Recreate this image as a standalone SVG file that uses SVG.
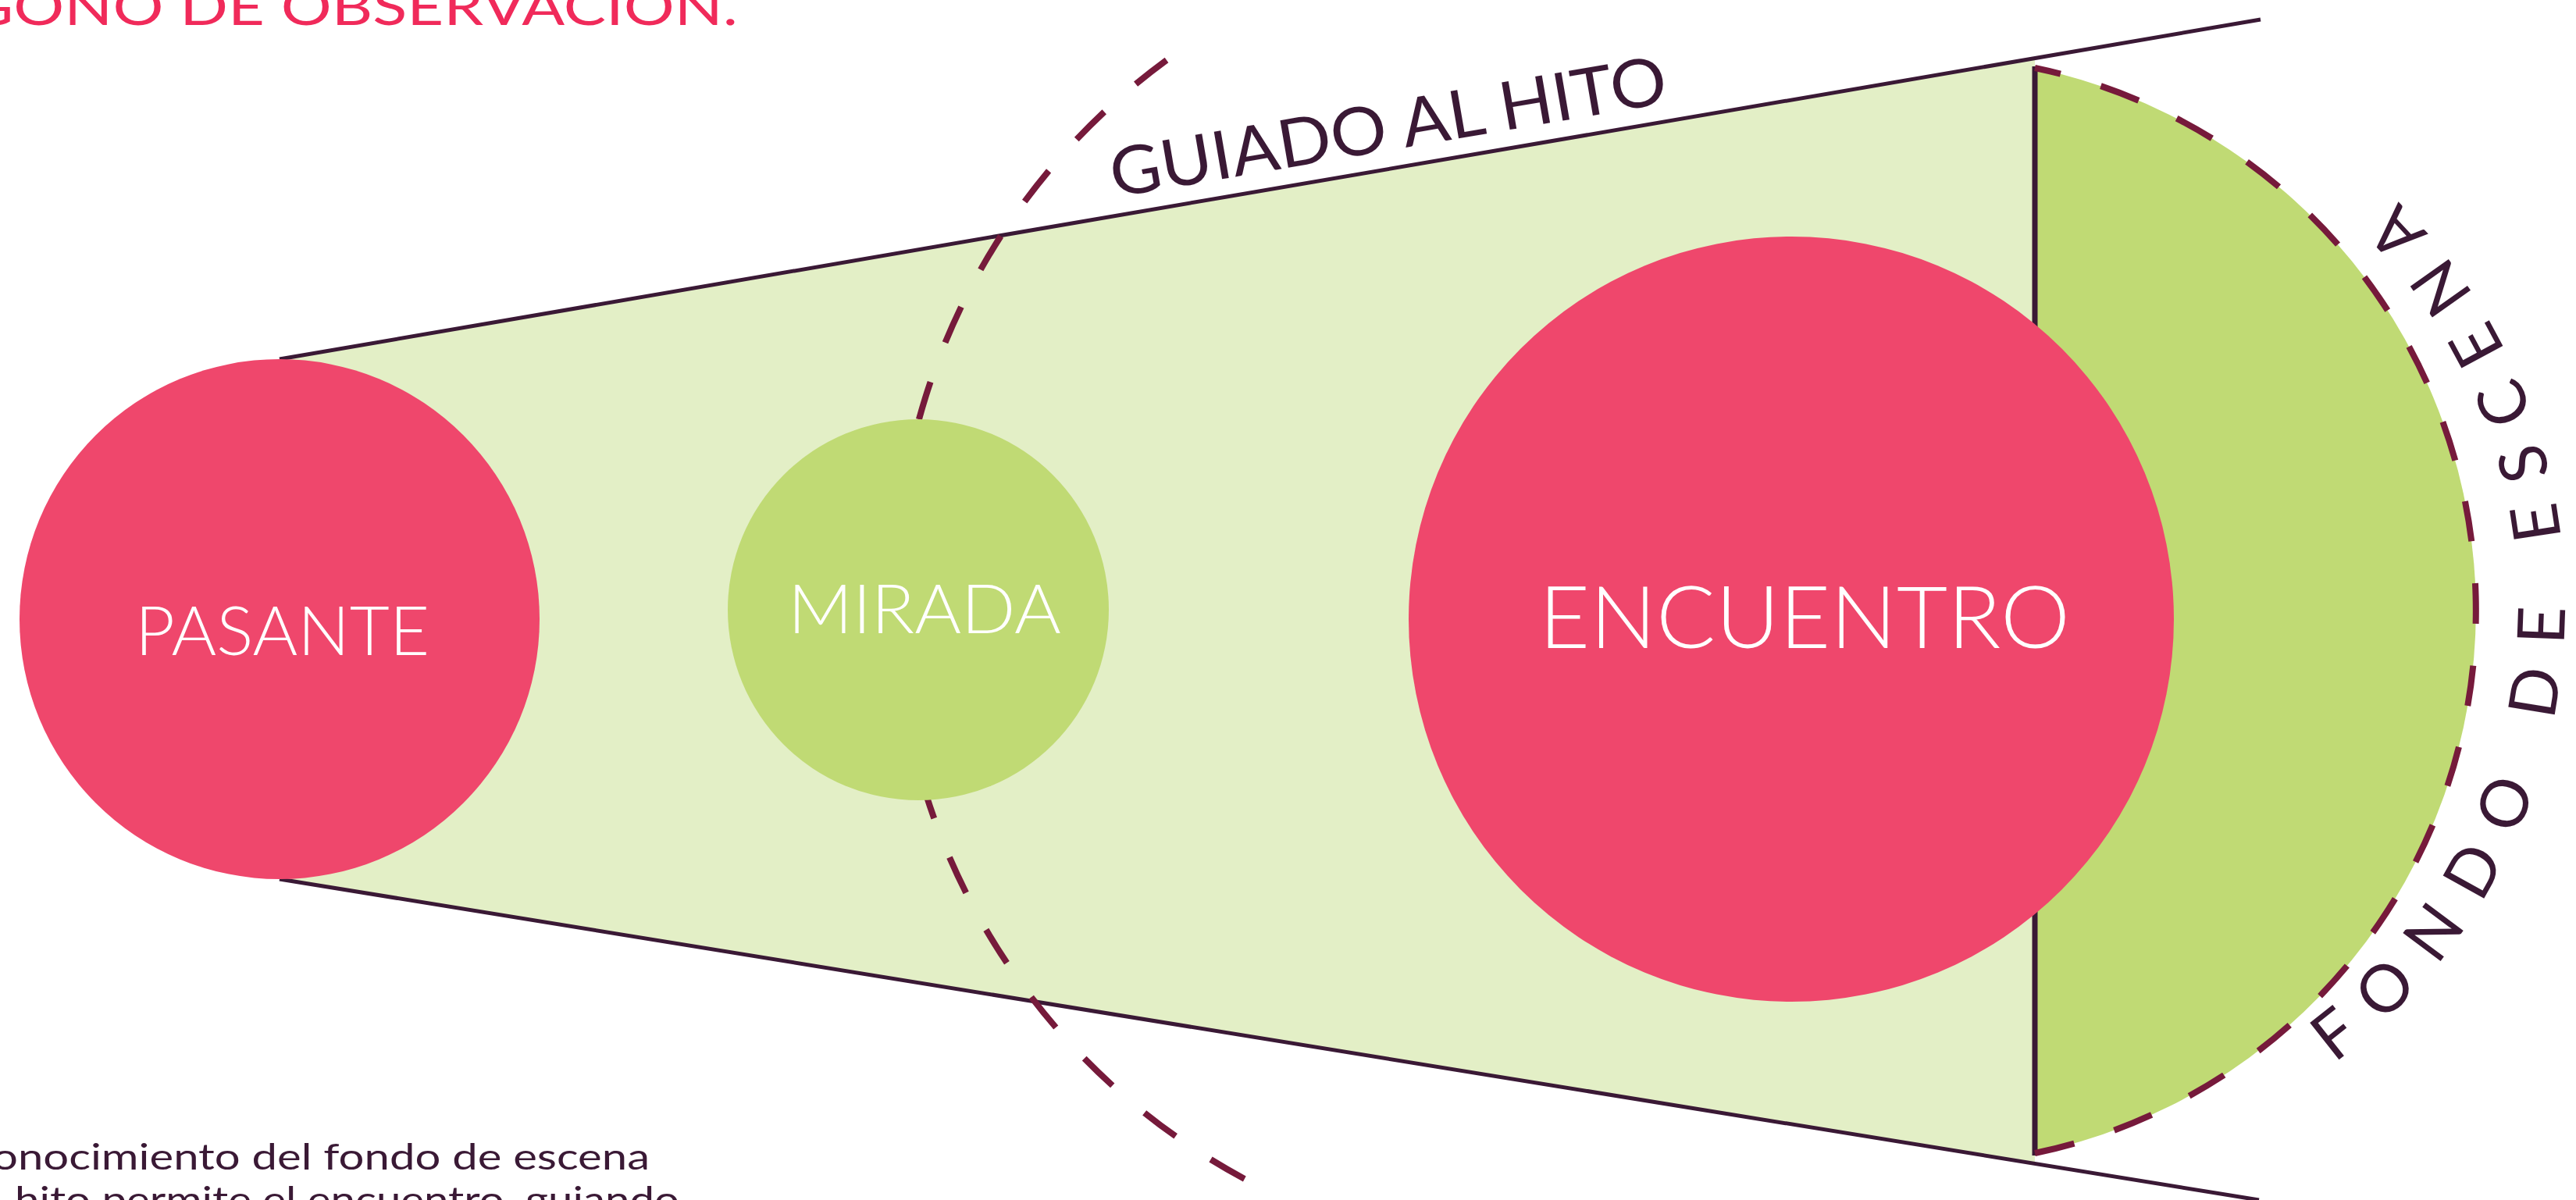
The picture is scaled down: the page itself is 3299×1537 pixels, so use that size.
<svg xmlns="http://www.w3.org/2000/svg" xmlns:xlink="http://www.w3.org/1999/xlink" width="3299" height="1537" viewBox="0 0 3299 1537">
  <style>
    .line { stroke: #3A1935; stroke-width: 5; fill: none; }
    .vline { stroke: #3A1935; stroke-width: 7; fill: none; }
    .dash { stroke: #761A3B; stroke-width: 8; fill: none; }
    .pink { fill: #EF476C; }
    .green { fill: #C0DA74; }
    .pale { fill: #E3EFC6; }
    .txt { font-family: Lato, "Liberation Sans", sans-serif; font-weight: 400; }
    .light { font-weight: 300; }
    .white { fill: #FFFFFF; }
    .dark { fill: #3A1935; }
    .title { fill: #F02A5A; }
  </style>
  <defs>
    <path id="fondoPath" d="M 2920 1407.2 A 730 730 0 0 0 2920 142.8" fill="none"/>
  </defs>

  <g id="cone">
    <polygon class="pale" points="358,460 2606,74.5 2606,1490 358,1126"/>
  </g>

  <g id="fondo-escena">
    <path class="green" d="M 2606 87 A 710 710 0 0 1 2606 1477 Z"/>
  </g>

  <g id="connectors">
    <line class="line" x1="358" y1="460" x2="2895" y2="25"/>
    <line class="line" x1="358" y1="1126" x2="2893" y2="1537"/>
    <line class="vline" x1="2606" y1="85" x2="2606" y2="1480"/>
    <path class="dash" d="M 1494 77 A 849 849 0 0 0 1594 1510" pathLength="1711" stroke-dasharray="50 53.8"/>
    <path class="dash" d="M 2606 1477 A 710 710 0 0 0 2606 87" pathLength="1940" stroke-dasharray="52 53.9"/>
  </g>

  <g id="pasante">
    <circle class="pink" cx="358" cy="793" r="333"/>
    <text class="txt light white" x="173" y="839" font-size="86" textLength="377" lengthAdjust="spacingAndGlyphs">PASANTE</text>
  </g>

  <g id="mirada">
    <circle class="green" cx="1176" cy="781" r="244"/>
    <text class="txt light white" x="1009" y="811" font-size="86" textLength="350" lengthAdjust="spacingAndGlyphs">MIRADA</text>
  </g>

  <g id="encuentro">
    <circle class="pink" cx="2294" cy="793" r="490"/>
    <text class="txt light white" x="1971" y="830" font-size="110" textLength="680" lengthAdjust="spacingAndGlyphs">ENCUENTRO</text>
  </g>

  <g id="guiado-label">
    <text class="txt dark" transform="translate(1427,253) rotate(-9.73)" font-size="86" textLength="722" lengthAdjust="spacingAndGlyphs">GUIADO AL HITO</text>
  </g>

  <g id="fondo-label">
    <text class="txt dark" font-size="84"><textPath href="#fondoPath" xlink:href="#fondoPath" startOffset="83" textLength="1255" lengthAdjust="spacing">FONDO DE ESCENA</textPath></text>
  </g>

  <g id="title">
    <text class="txt title" x="-42" y="32" font-size="66" textLength="987" lengthAdjust="spacingAndGlyphs">GONO DE OBSERVACION.</text>
  </g>

  <g id="caption">
    <text class="txt dark" x="-10" y="1498" font-size="46" textLength="842" lengthAdjust="spacingAndGlyphs">onocimiento del fondo de escena</text>
    <text class="txt dark" x="19" y="1553" font-size="46" textLength="851" lengthAdjust="spacingAndGlyphs">hito permite el encuentro, guiando</text>
  </g>
</svg>
